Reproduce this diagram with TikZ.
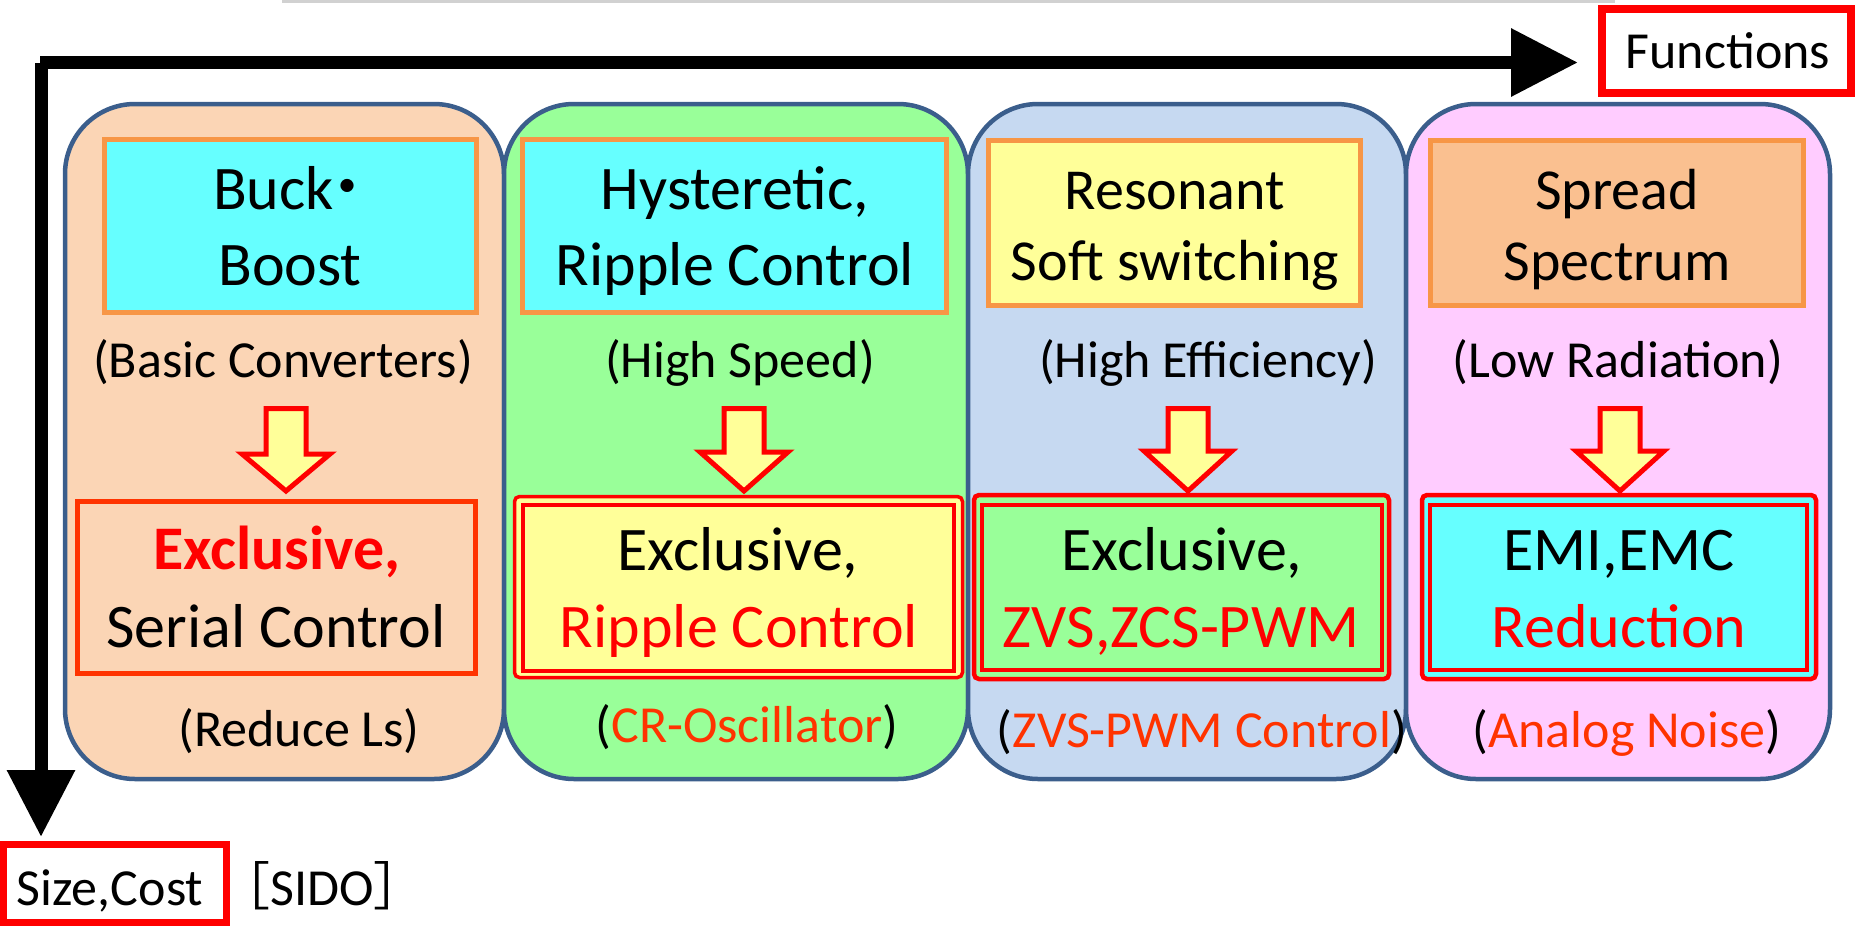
\documentclass[tikz,border=0pt]{standalone}
\usepackage{fontspec}
\setmainfont{Carlito}
\newfontfamily\cjk{Noto Sans CJK JP}
\usetikzlibrary{arrows.meta}
\definecolor{peach}{HTML}{FBD5B5}
\definecolor{lgreen}{HTML}{99FF99}
\definecolor{lblue}{HTML}{C6D9F1}
\definecolor{lpink}{HTML}{FFCCFF}
\definecolor{colborder}{HTML}{3B5E8C}
\definecolor{obord}{HTML}{F79646}
\definecolor{cyanbox}{HTML}{66FFFF}
\definecolor{yelbox}{HTML}{FFFF99}
\definecolor{orbox}{HTML}{FAC090}
\definecolor{orred}{HTML}{FF3300}
\definecolor{pred}{HTML}{FF0000}
\begin{document}
\begin{tikzpicture}[x=0.5pt,y=-0.5pt,
  colbox/.style={draw=colborder, line width=2.25pt, rounded corners=35pt, inner sep=0pt, outer sep=0pt},
  topbox/.style={draw=obord, line width=2.5pt, inner sep=0pt},
  outerbox/.style={draw=pred, line width=2pt, rounded corners=2.5pt, inner sep=0pt},
  innerbox/.style={draw=pred, line width=2pt, inner sep=0pt},
  redlabel/.style={draw=pred, line width=4pt, fill=white, inner sep=0pt},
  mainA/.style={font=\fontsize{31}{37}\selectfont, anchor=base, inner sep=0pt},
  mainB/.style={font=\fontsize{29}{35}\selectfont, anchor=base, inner sep=0pt},
  subtxt/.style={font=\fontsize{26}{31}\selectfont, anchor=base, inner sep=0pt},
  axis/.style={line width=6.5pt, -{Triangle[length=33.5pt, width=32.5pt]}},
  blockarr/.style={draw=pred, fill=yelbox, line width=2.5pt, miter limit=4}
]
\useasboundingbox (0,0) rectangle (1860,927);
% faint top edge
\draw[black!18, line width=1.5pt] (282,1.5) -- (1615,1.5);
% columns
\node[colbox, fill=peach,  minimum width=219.5pt, minimum height=337.5pt] (c1) at (284.5,441.5) {};
\node[colbox, fill=lgreen, minimum width=232pt,   minimum height=337.5pt] (c2) at (736,441.5) {};
\node[colbox, fill=lblue,  minimum width=219pt,   minimum height=337.5pt] (c3) at (1187,441.5) {};
\node[colbox, fill=lpink,  minimum width=212pt,   minimum height=337.5pt] (c4) at (1618,441.5) {};
% top boxes
\node[topbox, fill=cyanbox, minimum width=186pt, minimum height=86.5pt] (b1) at (290,225.5) {};
\node[topbox, fill=cyanbox, minimum width=212pt, minimum height=86.5pt] (b2) at (734.5,226) {};
\node[topbox, fill=yelbox,  minimum width=186pt, minimum height=82.5pt] (b3) at (1174.5,223) {};
\node[topbox, fill=orbox,   minimum width=186.5pt, minimum height=82.5pt] (b4) at (1617,223) {};
\node[mainA] (t1a) at (287,209) {Buck\kern-0.28em{\cjk ・}\kern-0.28em};
\node[mainA] (t1b) at (290,285) {Boost};
\node[mainA] (t2a) at (735,209) {Hysteretic,};
\node[mainA] (t2b) at (735,285) {Ripple Control};
\node[mainB] (t3a) at (1175,209) {Resonant};
\node[mainB] (t3b) at (1175,280) {Soft switching};
\node[mainB] (t4a) at (1617,209) {Spread};
\node[mainB] (t4b) at (1617,280) {Spectrum};
% sub texts
\node[subtxt] (s1) at (283,377) {(Basic Converters)};
\node[subtxt] (s2) at (740,377) {(High Speed)};
\node[subtxt] (s3) at (1208,377) {(High Efficiency)};
\node[subtxt] (s4) at (1618,377) {(Low Radiation)};
% block arrows
\foreach \ax/\sh in {286/454,744/452,1188/451,1620/451}{
  \draw[blockarr] (\ax-20,408.5) -- (\ax+20,408.5) -- (\ax+20,\sh) -- (\ax+44,\sh)
     -- (\ax,491) -- (\ax-44,\sh) -- (\ax-20,\sh) -- cycle;
}
% bottom boxes
\node[draw=orred, line width=2.5pt, fill=peach, inner sep=0pt, minimum width=199pt, minimum height=86pt] (d1) at (276.5,587.5) {};
\node[outerbox, line width=1.75pt, fill=yelbox, minimum width=224pt, minimum height=90.5pt] (d2o) at (738.5,587) {};
\node[innerbox, fill=yelbox, minimum width=215.5pt, minimum height=83.25pt] (d2i) at (738.5,587.75) {};
\node[outerbox, line width=2.25pt, fill=lgreen, minimum width=207.5pt, minimum height=92pt] (d3o) at (1181.5,587) {};
\node[innerbox, fill=lgreen, minimum width=200pt, minimum height=82.5pt] (d3i) at (1182,587.5) {};
\node[outerbox, line width=2.25pt, fill=cyanbox, minimum width=197pt, minimum height=92pt] (d4o) at (1619,587) {};
\node[innerbox, fill=cyanbox, minimum width=188.5pt, minimum height=82.5pt] (d4i) at (1618.5,587.5) {};
\node[mainA, text=pred, font=\fontsize{31}{37}\selectfont\bfseries] (u1a) at (277,569) {Exclusive,};
\node[mainA] (u1b) at (276,647) {Serial Control};
\node[mainA] (u2a) at (738,570) {Exclusive,};
\node[mainA, text=pred] (u2b) at (739,647) {Ripple Control};
\node[mainA] (u3a) at (1182,570) {Exclusive,};
\node[mainA, text=pred] (u3b) at (1181,647) {ZVS,ZCS-PWM};
\node[mainA] (u4a) at (1619,570) {EMI,EMC};
\node[mainA, text=pred] (u4b) at (1619,647) {Reduction};
% bottom sub texts
\node[subtxt] (v1) at (299,746) {(Reduce Ls)};
\node[subtxt] (v2) at (747,742) {(\textcolor{orred}{CR-Oscillator})};
\node[subtxt] (v3) at (1202,747) {(\textcolor{orred}{ZVS-PWM Control})};
\node[subtxt] (v4) at (1627,747) {(\textcolor{orred}{Analog Noise})};
% axes
\coordinate (hs) at (40,62.5);
\coordinate (he) at (1578,62.5);
\coordinate (vs) at (41,62.5);
\coordinate (ve) at (41,837);
\draw[axis] (hs) -- (he);
\draw[axis] (vs) -- (ve);
% labels
\node[redlabel, minimum width=124.5pt, minimum height=42pt] (fbox) at (1726.5,51) {};
\node[subtxt] (ftxt) at (1728,68) {Functions};
\node[redlabel, line width=3.75pt, minimum width=111.5pt, minimum height=39pt] (sbox) at (115,883.5) {};
\node[subtxt] (stxt) at (110,905) {Size,Cost};
\node[subtxt] (sido) at (322,905) {{\cjk ［}SIDO{\cjk ］}};
\end{tikzpicture}
\end{document}
